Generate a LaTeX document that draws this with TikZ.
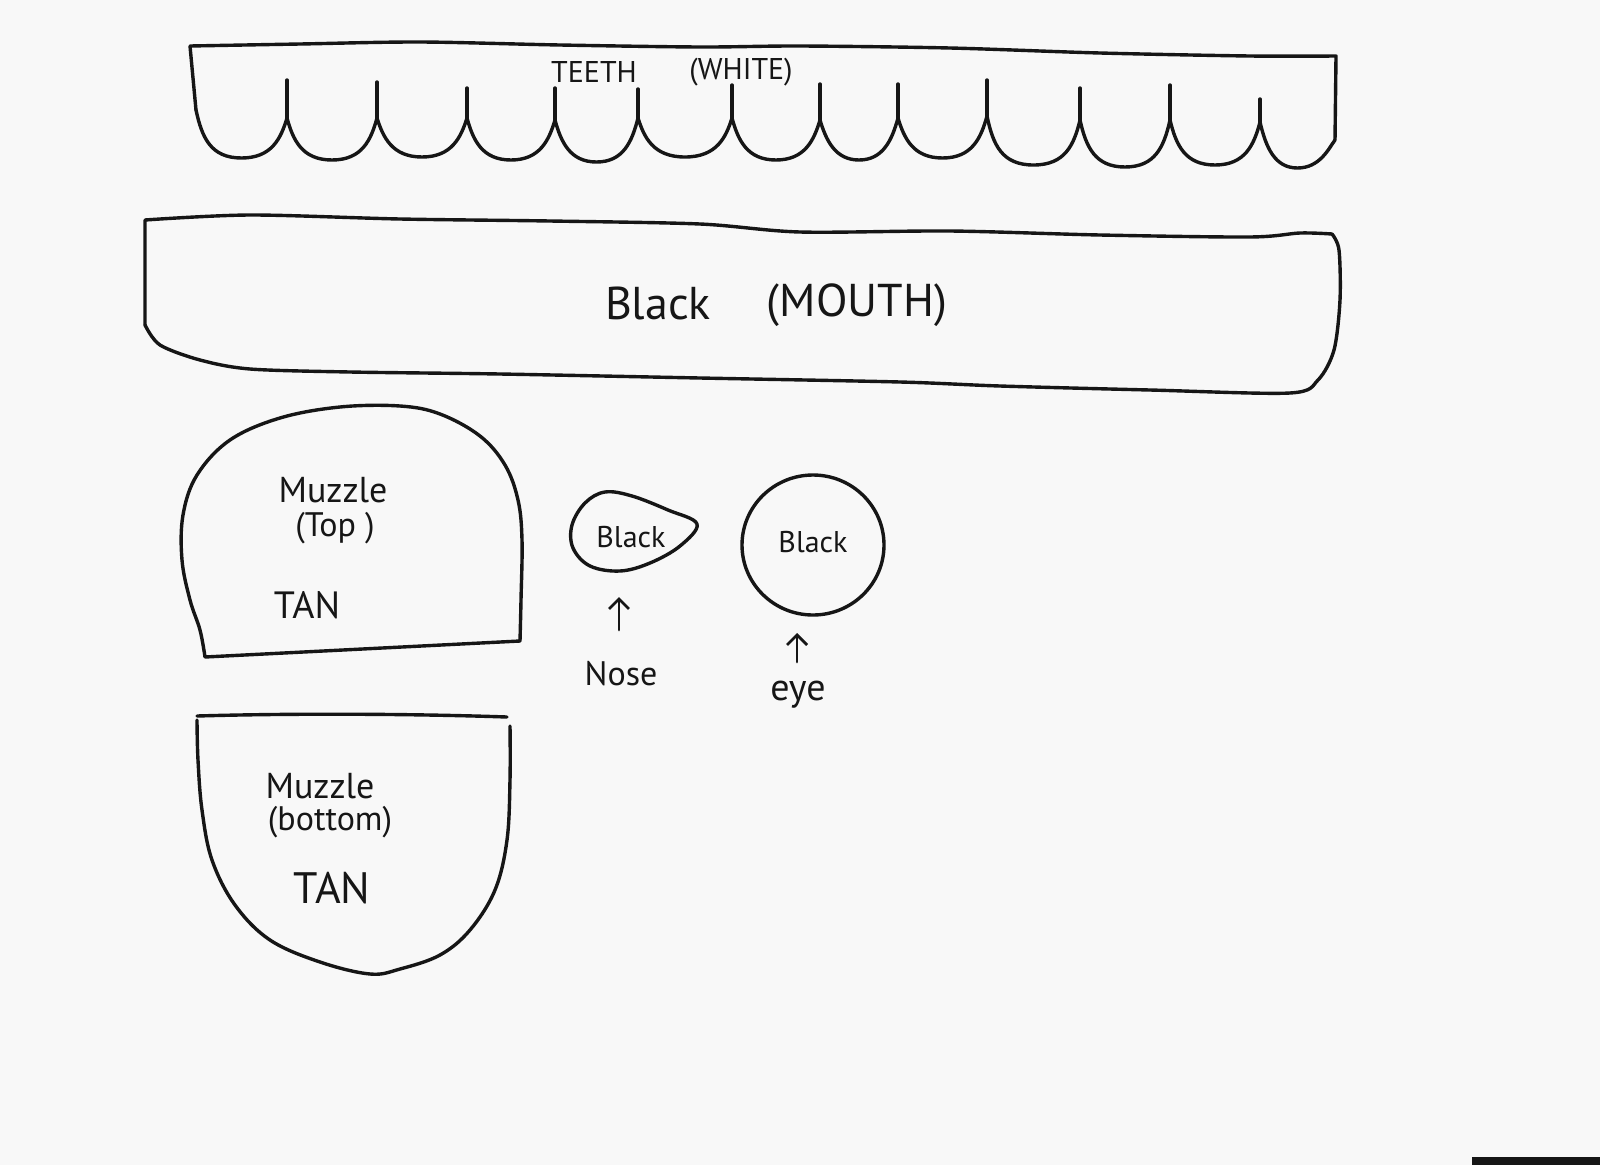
\documentclass[tikz,border=0pt]{standalone}
\usepackage{fontspec}
\setmainfont{PT Sans}
\usetikzlibrary{arrows.meta}
\definecolor{paper}{RGB}{248,248,248}
\definecolor{ink}{RGB}{22,22,22}
\begin{document}
\begin{tikzpicture}[x=1pt,y=-1pt,line cap=round,line join=round,
  inkline/.style={draw=ink,line width=3.4pt},
  lbl/.style={text=ink,inner sep=0pt},
  arr/.style={draw=ink,line width=2.8pt,-{Straight Barb[length=10pt,width=20pt,line width=2.8pt]}}]
\fill[paper] (0,0) rectangle (1600,1165);
\useasboundingbox (0,0) rectangle (1600,1165);

% ---------- teeth strip ----------
\draw[inkline] (196,110) -- (190,46)
  plot[smooth,tension=0.5] coordinates {(190,46) (300,44) (420,42) (560,45) (700,47) (800,46) (950,48) (1100,53) (1250,56) (1336,56)}
  -- (1335,140);
\foreach \a/\ja/\b/\jb/\yb in {196/110/287/118/158, 287/118/377/118/160, 377/118/467/118/157,
  467/118/555/120/160, 555/120/638/118/162, 638/118/732/118/157, 732/118/820/120/160,
  820/120/898/118/160, 898/118/987/116/158, 987/116/1080/120/165, 1080/120/1170/120/167,
  1170/120/1260/122/165, 1260/122/1335/140/168}
  \draw[inkline] (\a,\ja) .. controls ({\a+6},{\yb-20}) and ({\a+15},\yb) .. ({(\a+\b)/2},\yb)
     .. controls ({\b-15},\yb) and ({\b-6},{\yb-20}) .. (\b,\jb);
\foreach \x/\jy/\ty in {287/118/80, 377/118/82, 467/118/88, 555/120/88, 638/118/89, 732/118/85,
  820/120/84, 898/118/84, 987/116/80, 1080/120/88, 1170/120/85, 1260/122/99}
  \draw[inkline] (\x,\jy) -- (\x,\ty);
\node[lbl,font=\fontsize{30}{32}\selectfont] (teeth) at (594,72) {TEETH};
\node[lbl,font=\fontsize{30}{32}\selectfont] (white) at (741,72) {(WHITE)};

% ---------- mouth ----------
\draw[inkline] (145,325) -- (145,220)
  plot[smooth,tension=0.5] coordinates {(145,220) (250,215) (400,219) (550,221) (700,224) (800,232) (950,231) (1100,235) (1250,237) (1300,233) (1332,234)};
\draw[inkline] plot[smooth,tension=0.5] coordinates {(1332,234) (1339,250) (1340,300) (1334,350) (1318,380) (1290,393)
  (1150,390) (1000,386) (900,382) (700,378) (500,374) (350,372) (250,369) (200,360) (160,345) (145,325)};
\node[lbl,font=\fontsize{46}{48}\selectfont] (blackm) at (658,303) {Black};
\node[lbl,font=\fontsize{46}{48}\selectfont] (mouth) at (857,305) {(MOUTH)};

% ---------- muzzle top ----------
\draw[inkline] plot[smooth,tension=0.6] coordinates {(520,641) (521,600) (522,540) (518,500) (505,465) (480,436) (440,414) (400,406) (340,407) (280,418) (230,440) (197,475) (183,515) (182,560) (190,600) (200,630) (205,657)} -- cycle;
\node[lbl,font=\fontsize{36}{38}\selectfont] (mzt1) at (333,490) {Muzzle};
\node[lbl,font=\fontsize{34}{36}\selectfont] (mzt2) at (335,528) {(Top )};
\node[lbl,font=\fontsize{38}{40}\selectfont] (mzt3) at (307,605) {TAN};

% ---------- muzzle bottom ----------
\draw[inkline] (197,716) .. controls (300,713) and (420,714) .. (507,717);
\draw[inkline] plot[smooth,tension=0.6] coordinates {(510,726) (510,780) (507,840) (495,890) (470,930) (440,955) (400,969) (370,974)
  (320,962) (270,940) (235,905) (212,860) (202,810) (198,760) (197,720)};
\node[lbl,font=\fontsize{36}{38}\selectfont] (mzb1) at (320,786) {Muzzle};
\node[lbl,font=\fontsize{34}{36}\selectfont] (mzb2) at (330,822) {(bottom)};
\node[lbl,font=\fontsize{44}{46}\selectfont] (mzb3) at (332,888) {TAN};

% ---------- nose ----------
\draw[inkline] plot[smooth cycle,tension=0.6] coordinates {(697,524) (680,546) (650,563) (620,571) (590,566) (573,548) (572,525) (585,503) (605,492) (632,496) (668,510)};
\node[lbl,font=\fontsize{30}{32}\selectfont] (noseb) at (631,537) {Black};
\coordinate (nosetail) at (619,630);
\coordinate (nosehead) at (619,597);
\draw[arr] (nosetail) -- (nosehead);
\node[lbl,font=\fontsize{34}{36}\selectfont] (nose) at (621,674) {Nose};

% ---------- eye ----------
\draw[inkline] (813,545) ellipse [x radius=71pt,y radius=70pt];
\node[lbl,font=\fontsize{30}{32}\selectfont] (eyeb) at (813,542) {Black};
\coordinate (eyetail) at (797,662);
\coordinate (eyehead) at (797,633);
\draw[arr] (eyetail) -- (eyehead);
\node[lbl,font=\fontsize{38}{40}\selectfont] (eye) at (798,695) {eye};

% scan edge
\fill[ink] (1472,1157) rectangle (1600,1165);
\end{tikzpicture}
\end{document}
